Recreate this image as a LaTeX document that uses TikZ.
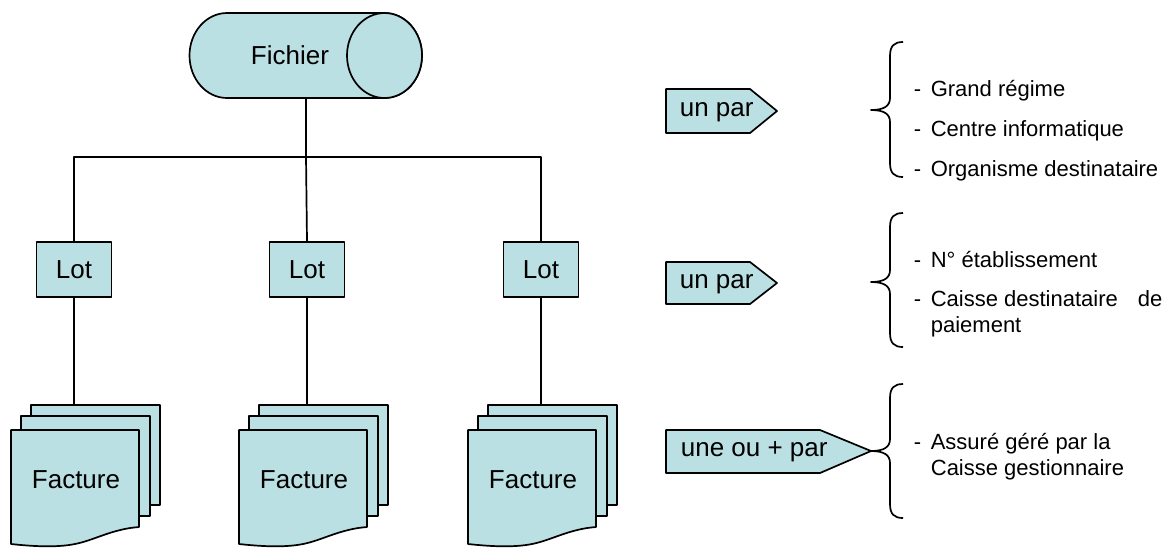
\documentclass[tikz,border=0pt]{standalone}
\usepackage{fontspec}
\setmainfont{Liberation Sans}
\definecolor{boxfill}{RGB}{187,224,227}
\newcommand\itemdash{-\hspace{4.8pt}}
\begin{document}
\begin{tikzpicture}[x=0.5pt,y=-0.5pt,line width=0.85pt,line join=round,
  shapefill/.style={draw=black,fill=boxfill},
  lotbox/.style={shapefill,minimum width=37.5pt,minimum height=27.5pt,inner sep=0pt,font=\fontsize{13}{15}\selectfont},
  label/.style={font=\fontsize{13}{15}\selectfont,inner sep=0pt},
  sheet/.style={shapefill,minimum width=64.5pt,minimum height=50pt,inner sep=0pt,anchor=north west},
  item/.style={font=\fontsize{11}{13}\selectfont,inner sep=0pt,anchor=base west}]
\useasboundingbox (0,0) rectangle (1165,548);

% file cylinder
\path[shapefill] (227,13) -- (384.5,13)
  arc[start angle=90,end angle=-90,x radius=18.75pt,y radius=21.25pt]
  -- (227,98)
  arc[start angle=270,end angle=90,x radius=18.75pt,y radius=21.25pt] -- cycle;
\path[shapefill] (384.5,55.5) ellipse[x radius=18.75pt,y radius=21.25pt];
\node[label] (fichier) at (290,55) {Fichier};
\coordinate (fichbot) at (306,98);
\coordinate (hub) at (306,157);

% batches
\node[lotbox] (lot1) at (74,269.5) {Lot};
\node[lotbox] (lot2) at (307,269.5) {Lot};
\node[lotbox] (lot3) at (541,269.5) {Lot};

\draw (fichbot) -- (hub);
\draw (lot1.north) -- (lot1.north |- hub) -- (lot3.north |- hub) -- (lot3.north);
\draw (hub) -- (lot2.north);

% stacks of invoices
\foreach \i/\dx in {1/0,2/228,3/457}{
  \node[sheet] (fa\i) at (30+\dx,404) {};
  \node[sheet] (fb\i) at (20+\dx,415) {};
  \path[shapefill] (11+\dx,430) -- (139+\dx,430) -- (139+\dx,527)
    .. controls (112+\dx,529) and (95+\dx,540) .. (75+\dx,544)
    .. controls (55+\dx,548) and (30+\dx,546) .. (11+\dx,544) -- cycle;
  \node[label] (fac\i) at (76+\dx,480) {Facture};
  \draw (lot\i.south) -- (lot\i.south |- fa\i.north);
}

% cardinality tags
\path[shapefill] (666,89) -- (750,89) -- (777,111) -- (750,133) -- (666,133) -- cycle;
\node[label,anchor=mid west] (par1) at (679,111) {un par};
\path[shapefill] (666,262) -- (750,262) -- (777,283) -- (750,304) -- (666,304) -- cycle;
\node[label,anchor=mid west] (par2) at (679,283) {un par};
\path[shapefill] (666,430) -- (820,430) -- (871,451) -- (820,473) -- (666,473) -- cycle;
\node[label,anchor=mid west] (par3) at (680,451) {une ou + par};

% braces
\foreach \t/\m/\b in {42/110/177,213/282/347,384/451/518}{
  \draw (903,\t) .. controls (894,\t) and (890,\t+4) .. (890,\t+14)
    -- (890,\m-12) .. controls (890,\m-4) and (884,\m) .. (871,\m)
    .. controls (884,\m) and (890,\m+4) .. (890,\m+12)
    -- (890,\b-14) .. controls (890,\b-4) and (894,\b) .. (903,\b);
}

% attributes
\node[item] (g1) at (913,96) {\itemdash Grand régime};
\node[item] (g2) at (913,136) {\itemdash Centre informatique};
\node[item] (g3) at (913,176) {\itemdash Organisme destinataire};
\node[item] (h1) at (913,267) {\itemdash N° établissement};
\node[item] (h2) at (913,306) {\itemdash Caisse destinataire\hspace{10pt}de};
\node[item] (h3) at (930,332) {paiement};
\node[item] (k1) at (913,449) {\itemdash Assuré géré par la};
\node[item] (k2) at (930,475) {Caisse gestionnaire};
\end{tikzpicture}
\end{document}
